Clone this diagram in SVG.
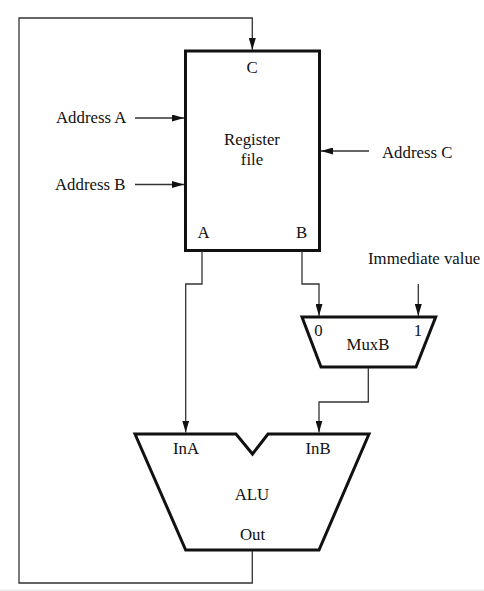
<svg xmlns="http://www.w3.org/2000/svg" width="484" height="591" viewBox="0 0 484 591">
<style>
text{font-family:"Liberation Serif","Times New Roman",serif;font-size:16.8px;fill:#111}
.m{text-anchor:middle}
.b{fill:#fff;stroke:#111;stroke-width:3;stroke-linejoin:miter}
.c{fill:none;stroke:#333;stroke-width:1.3}
</style>
<defs>
<marker id="ah" markerUnits="userSpaceOnUse" markerWidth="12" markerHeight="7" refX="12" refY="3.5" orient="auto"><path d="M0 0L12 3.500L0 7Z" fill="#111"/></marker>
</defs>
<rect width="484" height="591" fill="#fff"/>
<rect y="589" width="484" height="2" fill="#f0f0f0"/>
<g id="register-file">
<rect class="b" x="185.500" y="51" width="134" height="199.500"/>
<text class="m" x="252" y="72.500">C</text>
<text class="m" x="252" y="144.500">Register</text>
<text class="m" x="252" y="164.500">file</text>
<text class="m" x="203.500" y="238">A</text>
<text class="m" x="301.500" y="238">B</text>
</g>
<g id="address-a"><text x="56" y="123">Address A</text></g>
<g id="address-b"><text x="55" y="190">Address B</text></g>
<g id="address-c"><text x="382" y="158">Address C</text></g>
<g id="immediate-value"><text x="368" y="264">Immediate value</text></g>
<g id="muxb">
<path class="b" d="M302 317H435.700L416 367H321Z"/>
<text class="m" x="318.500" y="336">0</text>
<text class="m" x="418" y="336">1</text>
<text class="m" x="368" y="349.500">MuxB</text>
</g>
<g id="alu">
<path class="b" d="M135 434H236L252.500 454L268 434H369L319 550H185.700Z"/>
<text class="m" x="186" y="454">InA</text>
<text class="m" x="318" y="454">InB</text>
<text class="m" x="252" y="499.500">ALU</text>
<text class="m" x="252.500" y="540">Out</text>
</g>
<g id="connectors">
<path class="c" d="M252.300 551V583H19V18H252.300V50" marker-end="url(#ah)"/>
<path class="c" d="M135 118H184" marker-end="url(#ah)"/>
<path class="c" d="M135 184.500H184" marker-end="url(#ah)"/>
<path class="c" d="M369 151H321" marker-end="url(#ah)"/>
<path class="c" d="M202 251V284H185.700V432.500" marker-end="url(#ah)"/>
<path class="c" d="M302 251V284H319V316" marker-end="url(#ah)"/>
<path class="c" d="M418.300 284V316" marker-end="url(#ah)"/>
<path class="c" d="M368.300 368V402H319V432.500" marker-end="url(#ah)"/>
</g>
</svg>
